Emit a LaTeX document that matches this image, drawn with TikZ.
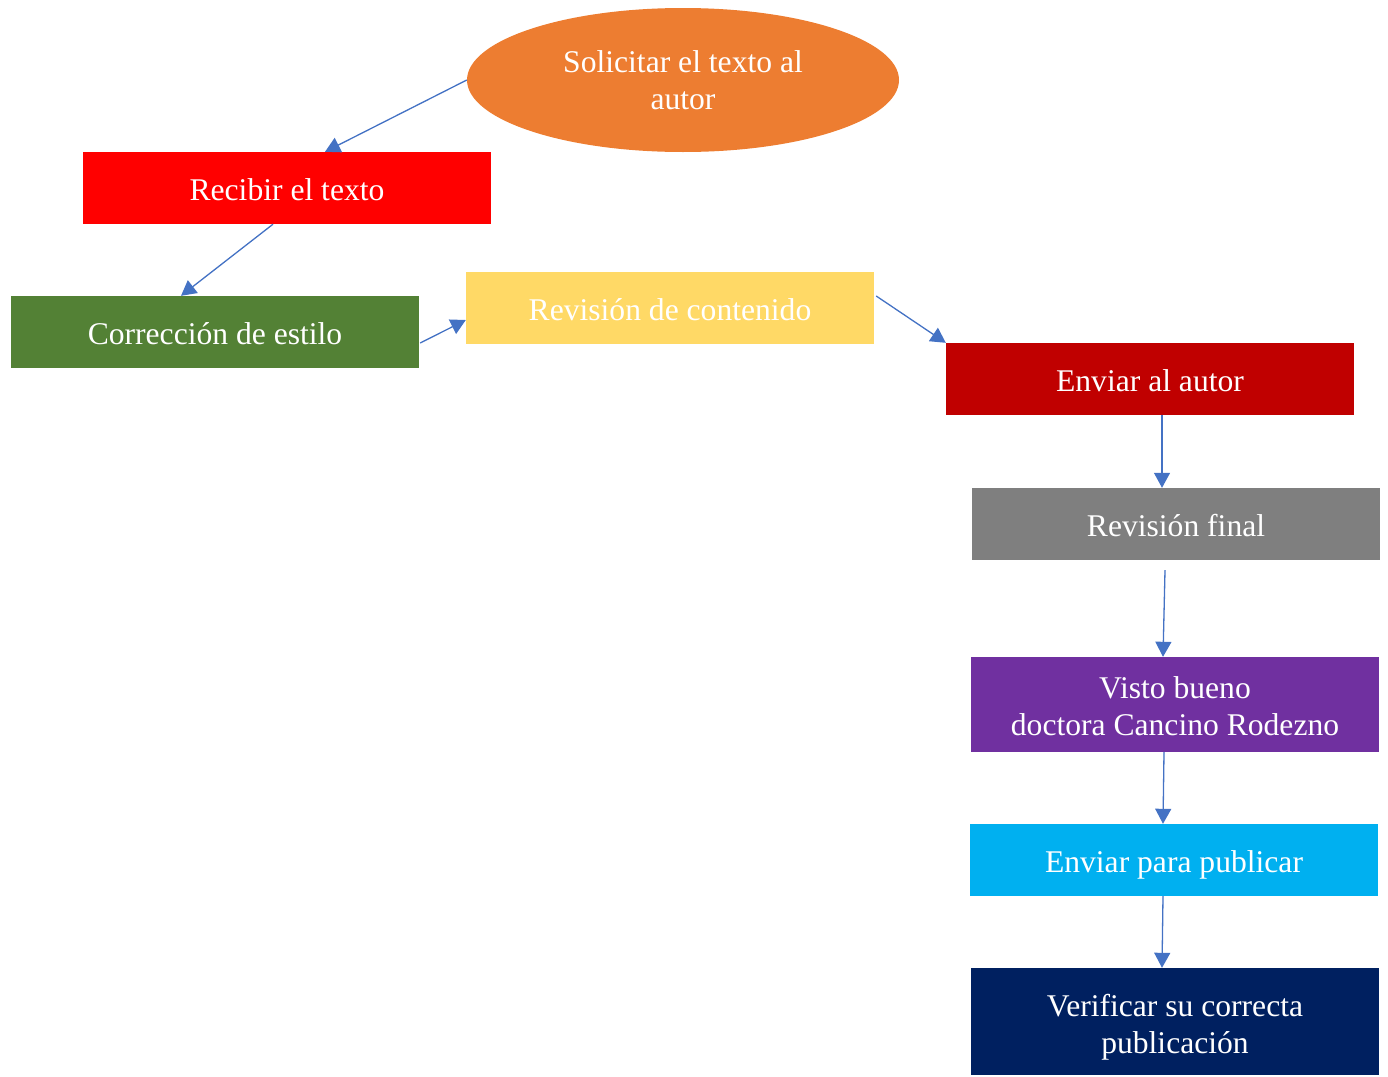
\documentclass[tikz,border=0pt]{standalone}
\usepackage{fontspec}
\setmainfont{Liberation Serif}
\usetikzlibrary{arrows.meta,shapes.geometric}
\definecolor{naranja}{HTML}{ED7D31}
\definecolor{rojo}{HTML}{FF0000}
\definecolor{verde}{HTML}{538135}
\definecolor{amarillo}{HTML}{FFD966}
\definecolor{granate}{HTML}{C00000}
\definecolor{gris}{HTML}{7F7F7F}
\definecolor{morado}{HTML}{7030A0}
\definecolor{celeste}{HTML}{00B0F0}
\definecolor{marino}{HTML}{002060}
\definecolor{flecha}{HTML}{4472C4}
\begin{document}
\begin{tikzpicture}[x=1pt, y=-1pt, >={Triangle[width=16pt,length=15pt]},
		paso/.style={rectangle, minimum width=408pt, minimum height=72pt, inner sep=0pt,
			text=white, align=center, text height=25pt, text depth=0pt,
			font=\fontsize{31.6}{37.5}\selectfont},
		flujo/.style={->, draw=flecha, fill=flecha, line width=1.3pt}]
	\useasboundingbox (0,0) rectangle (1388,1076);
	% inicio
	\node[ellipse, fill=naranja, minimum width=432pt, minimum height=144pt, inner sep=0pt,
		text=white, align=center, font=\fontsize{31.6}{37.5}\selectfont] (sol) at (683,80) {Solicitar el texto al\\autor};
	\node[paso, fill=rojo] (rec) at (287,188) {Recibir el texto};
	\node[paso, fill=verde] (cor) at (215,332) {Corrección de estilo};
	\node[paso, fill=amarillo] (rev) at (670,308) {Revisión de contenido};
	\node[paso, fill=granate] (env) at (1150,379) {Enviar al autor};
	\node[paso, fill=gris] (fin) at (1176,524) {Revisión final};
	\node[paso, fill=morado, minimum height=95pt, text height=62pt] (vis) at (1175,704.5) {Visto bueno\\doctora Cancino Rodezno};
	\node[paso, fill=celeste] (pub) at (1174,860) {Enviar para publicar};
	\node[paso, fill=marino, minimum height=107pt, text height=64pt] (ver) at (1175,1021.5) {Verificar su correcta\\publicación};
	% flechas
	\draw[flujo] (sol.west) -- ([xshift=38pt]rec.north);
	\draw[flujo] ([xshift=-14pt]rec.south) -- ([xshift=-34pt]cor.north);
	\draw[flujo] ([xshift=1pt,yshift=-11pt]cor.east) -- ([yshift=-12pt]rev.west);
	\draw[flujo] ([xshift=2pt,yshift=12pt]rev.east) -- (env.north west);
	\draw[flujo] ([xshift=12pt]env.south) -- ([xshift=-14pt]fin.north);
	\draw[flujo] ([xshift=-11pt,yshift=-10pt]fin.south) -- ([xshift=-12pt]vis.north);
	\draw[flujo] ([xshift=-11pt]vis.south) -- ([xshift=-11pt]pub.north);
	\draw[flujo] ([xshift=-11pt]pub.south) -- ([xshift=-13pt]ver.north);
\end{tikzpicture}
\end{document}
